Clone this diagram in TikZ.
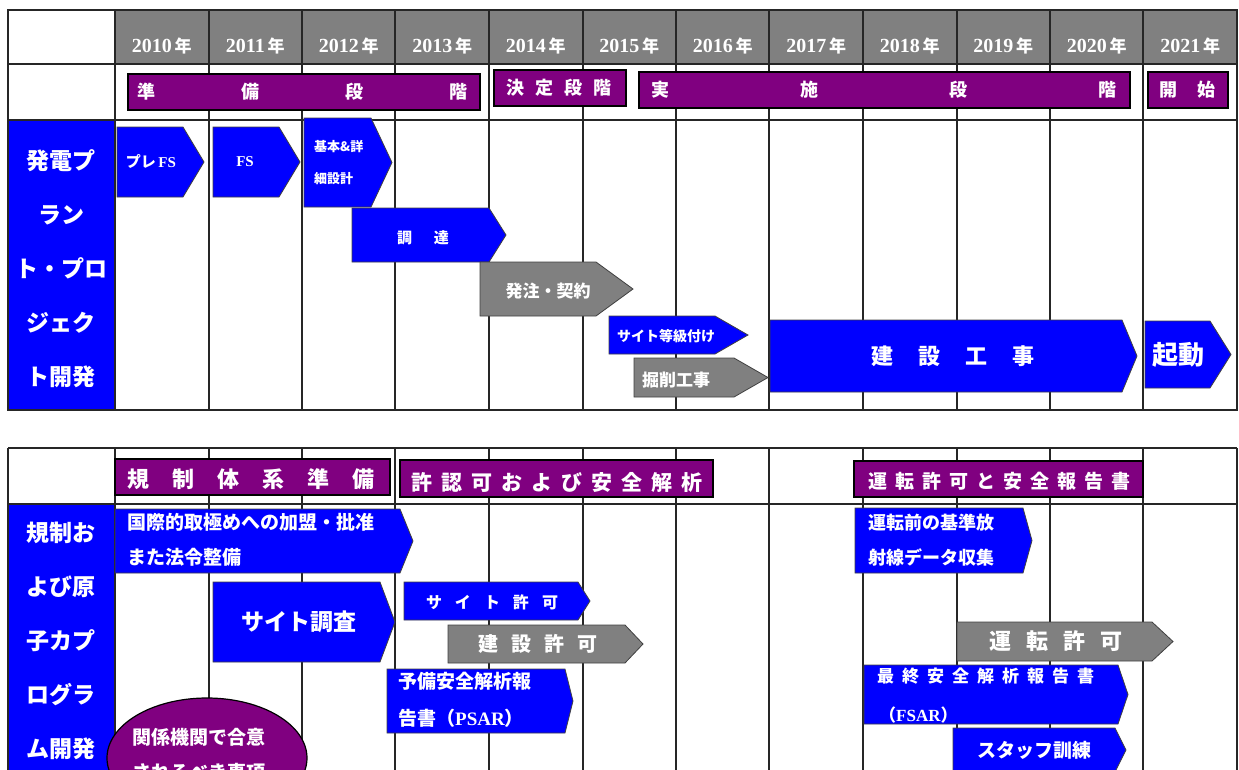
\documentclass[tikz,border=0pt]{standalone}
\usepackage{fontspec}
\usetikzlibrary{shapes.geometric}
\newfontfamily\jp{Noto Sans CJK JP}
\newfontfamily\lat{Liberation Serif}
\definecolor{pblue}{HTML}{0000FF}
\definecolor{pgray}{HTML}{808080}
\definecolor{ppurple}{HTML}{800080}
\newcommand\fsz[1]{\fontsize{#1}{#1}\selectfont}
\newcommand\gp[1]{\hspace{#1pt}}
\newcommand\pent[6]{\draw[#1] (#2,#3) -- (#4,#3) -- (#5,{(#3+#6)/2}) -- (#4,#6) -- (#2,#6) -- cycle;}
\tikzset{
 gridline/.style={draw=black!85, line width=1.3pt},
 bluebox/.style={fill=pblue, draw=black!75, line width=0.8pt},
 graybox/.style={fill=pgray, draw=black!75, line width=0.8pt},
 phasebar/.style={fill=ppurple, draw=black, line width=1.2pt},
 wt/.style={text=white, inner sep=0pt, font=\jp\bfseries\fsz{#1}},
 wtl/.style 2 args={text=white, inner sep=0pt, align=left, anchor=west, font=\jp\bfseries\fontsize{#1}{#2}\selectfont},
 lab/.style={text=white, inner sep=0pt, align=center, font=\jp\bfseries\fontsize{23}{54}\selectfont},
}
\begin{document}
\begin{tikzpicture}[x=1pt,y=-1pt]
\useasboundingbox (0,0) rectangle (1239,769);
\begin{scope}
\clip (0,0) rectangle (1239,769);
% ---------------- top table ----------------
\fill[pgray] (115,10) rectangle (1237,64);
\fill[pblue] (8,120) rectangle (115,410);
\draw[gridline] (8,10) rectangle (1237,410);
\draw[gridline] (8,64) -- (1237,64) (8,120) -- (1237,120);
\foreach \x in {115,209,302,395,489,583,676,769,863,957,1050,1143}
  \draw[gridline] (\x,10) -- (\x,410);
\foreach \yr [count=\i from 0] in {2010,2011,...,2021}
  \node[wt=17] (yr\yr) at ({115+93.5*\i+46.75},46) {{\lat\bfseries\fsz{20}\yr}\,年};
% phases
\draw[phasebar] (128,74) rectangle (480,110);
\node[wt=18] (ph1) at (302,92) {準\gp{86}備\gp{86}段\gp{86}階};
\draw[phasebar] (494,70) rectangle (626,106);
\node[wt=18] (ph2) at (559,88) {決\gp{11}定\gp{11}段\gp{11}階};
\draw[phasebar] (639,72) rectangle (1130,108);
\node[wt=18] (ph3) at (884,90) {実\gp{131}施\gp{131}段\gp{131}階};
\draw[phasebar] (1148,72) rectangle (1228,108);
\node[wt=18] (ph4) at (1187,90) {開\gp{20}始};
% label
\node[lab] (lab1) at (61,269) {発電プ\\ラン\\ト・プロ\\ジェク\\ト開発};
% arrows
\pent{bluebox}{117}{127}{183}{204}{197}
\node[wt=15] (a1) at (151,162) {プレ\,{\lat\bfseries FS}};
\pent{bluebox}{213}{127}{279}{300}{197}
\node[wt=15] (a2) at (245,162) {{\lat\bfseries FS}};
\pent{bluebox}{304}{118}{371}{392}{207}
\node[wtl={13}{32}] (a3) at (314,163) {基本\&詳\\細設計};
\pent{bluebox}{352}{208}{489}{506}{262}
\node[wt=15] (a4) at (423,238) {調\gp{22}達};
\pent{graybox}{480}{262}{596}{633}{316}
\node[wt=17] (a5) at (548,291) {発注・契約};
\pent{graybox}{634}{358}{734}{768}{397}
\node[wt=17] (a7) at (676,380) {掘削工事};
\pent{bluebox}{609}{316}{715}{748}{354}
\node[wt=14] (a6) at (666,336) {サイト等級付け};
\pent{bluebox}{770}{320}{1122}{1137}{392}
\node[wt=22] (a8) at (953,356) {建\gp{25}設\gp{25}工\gp{25}事};
\pent{bluebox}{1145}{321}{1210}{1231}{388}
\node[wt=26] (a9) at (1178,355) {起動};
% ---------------- bottom table ----------------
\fill[pblue] (8,504) rectangle (115,780);
\draw[gridline] (8,448) -- (1237,448) (8,504) -- (1237,504) (8,448) -- (8,780) (1237,448) -- (1237,780);
\foreach \x in {115,209,302,395,489,583,676,769,863,957,1050,1143}
  \draw[gridline] (\x,448) -- (\x,780);
\draw[phasebar] (115,459) rectangle (390,495);
\node[wt=22] (pb1) at (251,479) {規\gp{23}制\gp{23}体\gp{23}系\gp{23}準\gp{23}備};
\draw[phasebar] (400,460) rectangle (713,497);
\node[wt=21] (pb2) at (557,482) {許\gp{9}認\gp{9}可\gp{9}お\gp{9}よ\gp{9}び\gp{9}安\gp{9}全\gp{9}解\gp{9}析};
\draw[phasebar] (854,461) rectangle (1143,497);
\node[wt=19] (pb3) at (999,481) {運\gp{8}転\gp{8}許\gp{8}可\gp{8}と\gp{8}安\gp{8}全\gp{8}報\gp{8}告\gp{8}書};
\node[lab] (lab2) at (61,641) {規制お\\よび原\\子カプ\\ログラ\\ム開発};
% arrows
\pent{bluebox}{115}{509}{400}{413}{573}
\node[wtl={19}{35}] (b1) at (127,540) {国際的取極めへの加盟・批准\\また法令整備};
\pent{bluebox}{213}{582}{380}{395}{662}
\node[wt=23] (b2) at (299,622) {サイト調査};
\pent{bluebox}{404}{582}{578}{590}{620}
\node[wt=16] (b3) at (492,602) {サ\gp{13}イ\gp{13}ト\gp{13}許\gp{13}可};
\pent{graybox}{448}{625}{625}{643}{663}
\node[wt=20] (b4) at (538,644) {建\gp{13}設\gp{13}許\gp{13}可};
\pent{bluebox}{387}{669}{565}{573}{733}
\node[wtl={19}{37}] (b5) at (398,700) {予備安全解析報\\告書（{\lat\bfseries PSAR}）};
\node[ellipse, phasebar, minimum width=200pt, minimum height=120pt] (ell) at (207,758) {};
\node[wtl={19}{35}] (b6) at (132,755) {関係機関で合意\\されるべき事項};
\pent{bluebox}{855}{508}{1023}{1032}{573}
\node[wtl={18}{35}] (c1) at (868,540) {運転前の基準放\\射線データ収集};
\pent{graybox}{957}{622}{1152}{1173}{661}
\node[wt=22] (c2) at (1056,641) {運\gp{15}転\gp{15}許\gp{15}可};
\pent{bluebox}{864}{665}{1118}{1128}{724}
\node[wtl={17}{39}] (c3) at (877,696) {最\gp{8}終\gp{8}安\gp{8}全\gp{8}解\gp{8}析\gp{8}報\gp{8}告\gp{8}書\\\gp{2}（{\lat\bfseries FSAR}）};
\pent{bluebox}{953}{728}{1115}{1126}{772}
\node[wt=19] (c4) at (1034,750) {スタッフ訓練};
\end{scope}
\end{tikzpicture}
\end{document}
